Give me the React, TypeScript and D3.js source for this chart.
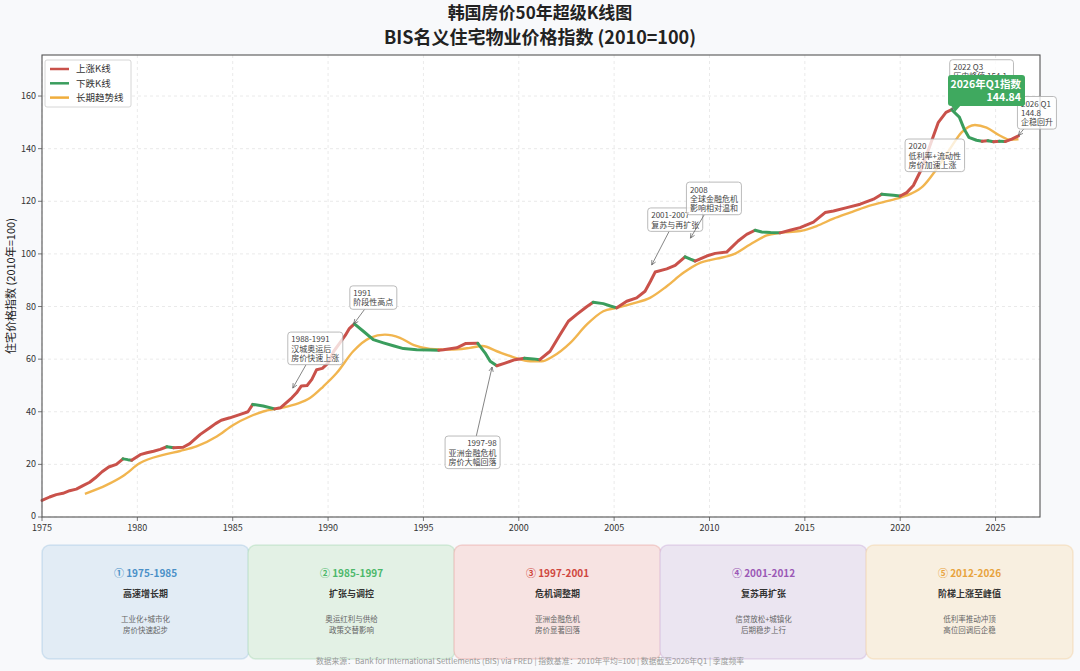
import React from "react";
import * as d3 from "d3";

// --- data ---
const priceYears = [
  1975.0, 1975.4, 1975.75, 1976.1, 1976.45, 1976.8, 1977.15, 1977.5, 1977.8, 1978.15,
  1978.5, 1978.9, 1979.25, 1979.5, 1979.7, 1980.15, 1980.5, 1980.85, 1981.2, 1981.55,
  1981.9, 1982.4, 1982.75, 1983.0, 1983.3, 1983.8, 1984.1, 1984.4, 1984.85, 1985.4,
  1985.8, 1986.05, 1986.6, 1987.2, 1987.5, 1987.8, 1988.1, 1988.35, 1988.6, 1988.9,
  1989.15, 1989.4, 1989.7, 1990.0, 1990.3, 1990.6, 1990.9, 1991.1, 1991.38, 1991.85,
  1992.37, 1992.9, 1993.42, 1993.95, 1994.65, 1995.35, 1995.8, 1996.05, 1996.75, 1997.2,
  1997.85, 1998.23, 1998.5, 1998.85, 1999.28, 1999.8, 2000.3, 2000.76, 2001.1, 2001.64,
  2002.16, 2002.6, 2003.04, 2003.56, 2003.9, 2004.43, 2004.8, 2005.14, 2005.66, 2006.18,
  2006.62, 2006.9, 2007.15, 2007.76, 2008.2, 2008.72, 2009.0, 2009.24, 2009.85, 2010.3,
  2010.9, 2011.5, 2011.95, 2012.39, 2012.74, 2013.2, 2013.7, 2014.22, 2014.75, 2015.45,
  2016.06, 2016.5, 2017.2, 2017.9, 2018.6, 2019.03, 2019.64, 2020.0, 2020.34, 2020.69,
  2021.1, 2021.6, 2022.0, 2022.4, 2022.7, 2023.1, 2023.35, 2023.6, 2024.0, 2024.3,
  2024.6, 2024.9, 2025.2, 2025.5, 2025.85, 2026.2,
];
const priceValues = [
  6.3, 7.6, 8.5, 9.0, 10.0, 10.6, 11.9, 13.2, 14.9, 17.2,
  19.0, 20.0, 22.1, 21.8, 21.6, 23.7, 24.4, 25.0, 25.7, 26.7,
  26.3, 26.5, 27.9, 29.5, 31.4, 33.9, 35.5, 36.8, 37.7, 39.0,
  40.0, 42.8, 42.2, 41.1, 41.5, 43.4, 45.3, 47.2, 49.8, 50.0,
  52.3, 56.0, 56.5, 58.5, 63.0, 66.0, 69.0, 71.5, 73.4, 70.6,
  67.4, 66.2, 65.1, 64.0, 63.6, 63.5, 63.4, 63.6, 64.3, 65.9,
  66.0, 62.4, 59.2, 57.5, 58.5, 59.8, 60.3, 60.1, 59.8, 63.0,
  69.3, 74.4, 77.0, 79.9, 81.6, 81.1, 80.2, 79.5, 82.0, 83.3,
  85.8, 89.5, 93.1, 94.3, 95.6, 98.9, 98.0, 97.3, 99.2, 100.2,
  100.7, 104.9, 107.4, 109.0, 108.3, 108.1, 108.0, 109.0, 110.0, 112.1,
  115.7, 116.3, 117.6, 118.9, 120.8, 122.7, 122.3, 122.0, 123.3, 126.0,
  132.0, 142.0, 150.0, 153.8, 154.8, 152.0, 147.5, 144.3, 143.2, 142.8,
  143.0, 142.6, 142.8, 142.7, 143.6, 144.84,
];

const trendYears = [
  1977.25, 1978.4, 1979.27, 1980.14, 1981.36, 1982.24, 1983.1, 1984.16, 1985.03, 1985.9,
  1986.6, 1987.48, 1988.36, 1989.05, 1989.75, 1990.45, 1991.32, 1992.2, 1992.98, 1993.77,
  1994.5, 1995.35, 1996.4, 1997.44, 1998.1, 1998.85, 1999.7, 2000.6, 2001.2, 2001.8,
  2002.7, 2003.56, 2004.43, 2005.14, 2006.0, 2006.88, 2007.76, 2008.63, 2009.5, 2010.38,
  2011.25, 2012.13, 2013.0, 2013.7, 2014.75, 2015.62, 2016.5, 2017.37, 2018.25, 2019.12,
  2020.0, 2020.6, 2021.2, 2021.9, 2022.6, 2023.22, 2023.92, 2024.53, 2025.24, 2025.76,
  2026.2,
];
const trendValues = [
  8.8, 12.2, 15.7, 20.5, 23.6, 25.1, 26.8, 30.6, 35.0, 38.2,
  40.1, 41.4, 43.0, 45.2, 49.6, 54.7, 63.0, 68.1, 69.3, 68.1,
  65.3, 63.9, 63.6, 64.3, 65.0, 63.0, 60.8, 59.2, 59.2, 61.1,
  66.2, 73.1, 78.2, 79.5, 81.2, 83.3, 87.7, 92.8, 96.6, 98.2,
  99.8, 103.6, 107.0, 108.0, 108.7, 110.6, 113.4, 115.7, 118.0, 119.7,
  121.4, 123.0, 125.8, 132.2, 139.8, 146.2, 149.0, 148.0, 144.9, 143.4,
  143.6,
];

const xTicks = [1975, 1980, 1985, 1990, 1995, 2000, 2005, 2010, 2015, 2020, 2025];
const yTicks = [0, 20, 40, 60, 80, 100, 120, 140, 160];

const legendLabels = ["上涨K线", "下跌K线", "长期趋势线"];

const noteTexts = [
  ["1988-1991", "汉城奥运后", "房价快速上涨"],
  ["1991", "阶段性高点"],
  ["1997-98", "亚洲金融危机", "房价大幅回落"],
  ["2001-2007", "复苏与再扩张"],
  ["2008", "全球金融危机", "影响相对温和"],
  ["2020", "低利率+流动性", "房价加速上涨"],
  ["2022 Q3", "历史峰值 154.1"],
  ["2026 Q1", "144.8", "企稳回升"],
];
const noteTargets = [
  [1988.15, 49], [1991.35, 73.4], [1998.6, 57], [2006.97, 95.8],
  [2009.0, 106], [2021.2, 131.5], [2022.7, 154.8], [2026.2, 145],
];

const calloutLines = ["2026年Q1指数", "144.84"];

const phaseTitles = ["① 1975-1985", "② 1985-1997", "③ 1997-2001", "④ 2001-2012", "⑤ 2012-2026"];
const phaseNames = ["高速增长期", "扩张与调控", "危机调整期", "复苏再扩张", "阶梯上涨至峰值"];
const phaseDescs = [
  ["工业化+城市化", "房价快速起步"],
  ["奥运红利与供给", "政策交替影响"],
  ["亚洲金融危机", "房价显著回落"],
  ["信贷放松+城镇化", "后期稳步上行"],
  ["低利率推动冲顶", "高位回调后企稳"],
];

const footer =
  "数据来源：Bank for International Settlements (BIS) via FRED  |  指数基准：2010年平均=100  |  数据截至2026年Q1  |  季度频率";

// --- layout / style ---
const W = 1080;
const H = 671;
const M = { left: 42, right: 1040, top: 55, bottom: 517 };
const FONT = "'Noto Sans CJK SC', 'Noto Sans', sans-serif";
const UP = "#c9514a";
const DOWN = "#3a9d5d";
const TREND = "#f0ad3c";

// box offsets (from target pixel) and text alignment for each note
const noteLayout = [
  { dx: -5, dy: -56, align: "start" },
  { dx: -4, dy: -38, align: "start" },
  { dx: -47, dy: 69, align: "end" },
  { dx: -4, dy: -57, align: "start" },
  { dx: -4, dy: -56, align: "start" },
  { dx: -18, dy: -32, align: "start" },
  { dx: -2, dy: -50, align: "start" },
  { dx: -1, dy: -39, align: "start" },
];
const phaseFill = ["#e2ecf5", "#e3f1e5", "#f7e3e2", "#ebe5f1", "#f8efe0"];
const phaseColor = ["#4a90c8", "#4cb86a", "#d0473f", "#9b59b6", "#e8a33d"];

if (typeof document !== "undefined") document.body.style.margin = "0";

function textWidth(s: string, size: number) {
  let w = 0;
  for (const ch of s) {
    if (/[\u2E80-\uFFFF]/.test(ch)) w += size;
    else if (ch === " ") w += size * 0.3;
    else w += size * 0.56;
  }
  return w;
}

function edgePoint(b: { x: number; y: number; w: number; h: number }, tx: number, ty: number) {
  const cx = b.x + b.w / 2;
  const cy = b.y + b.h / 2;
  const dx = tx - cx;
  const dy = ty - cy;
  const sx = dx !== 0 ? b.w / 2 / Math.abs(dx) : Infinity;
  const sy = dy !== 0 ? b.h / 2 / Math.abs(dy) : Infinity;
  const s = Math.min(sx, sy);
  return [cx + dx * s, cy + dy * s];
}

export default function App() {
  const x = d3.scaleLinear().domain([1975, 2027.33]).range([M.left, M.right]);
  const y = d3.scaleLinear().domain([0, 175.6]).range([M.bottom, M.top]);

  const pts: [number, number][] = priceYears.map((yr, i) => [yr, priceValues[i]]);
  // group into up / down runs
  const runs: { up: boolean; pts: [number, number][] }[] = [];
  for (let i = 0; i < pts.length - 1; i++) {
    const up = pts[i + 1][1] >= pts[i][1];
    const last = runs[runs.length - 1];
    if (last && last.up === up) last.pts.push(pts[i + 1]);
    else runs.push({ up, pts: [pts[i], pts[i + 1]] });
  }
  const line = d3.line<[number, number]>().x((d) => x(d[0])).y((d) => y(d[1]));
  const trendLine = d3
    .line<[number, number]>()
    .x((d) => x(d[0]))
    .y((d) => y(d[1]))
    .curve(d3.curveMonotoneX);
  const trendPts: [number, number][] = trendYears.map((yr, i) => [yr, trendValues[i]]);

  const noteSize = 8;
  const lh = 9.2;
  const notes = noteTexts.map((lines, i) => {
    const tx = x(noteTargets[i][0]);
    const ty = y(noteTargets[i][1]);
    const L = noteLayout[i];
    const w = Math.max(...lines.map((s) => textWidth(s, noteSize))) + 7;
    const h = lines.length * lh + 5;
    const b = { x: tx + L.dx, y: ty + L.dy, w, h };
    const inside = tx > b.x && tx < b.x + w && ty > b.y && ty < b.y + h;
    let arrow = null as null | number[];
    if (!inside) {
      const [sx, sy] = edgePoint(b, tx, ty);
      arrow = [sx, sy, tx, ty];
    }
    return { lines, b, arrow, align: L.align };
  });

  const arrowHead = (a: number[]) => {
    const ang = Math.atan2(a[3] - a[1], a[2] - a[0]);
    const s = 5;
    const p1 = [a[2] - s * Math.cos(ang - 0.45), a[3] - s * Math.sin(ang - 0.45)];
    const p2 = [a[2] - s * Math.cos(ang + 0.45), a[3] - s * Math.sin(ang + 0.45)];
    return `M${p1[0]},${p1[1]}L${a[2]},${a[3]}L${p2[0]},${p2[1]}`;
  };

  const renderNote = (n: (typeof notes)[number], key: number) => (
    <g key={key}>
      {n.arrow && (
        <g stroke="#666" strokeWidth={0.8} fill="none">
          <line x1={n.arrow[0]} y1={n.arrow[1]} x2={n.arrow[2]} y2={n.arrow[3]} />
          <path d={arrowHead(n.arrow)} />
        </g>
      )}
      <rect
        x={n.b.x}
        y={n.b.y}
        width={n.b.w}
        height={n.b.h}
        rx={3}
        fill="#fff"
        fillOpacity={0.78}
        stroke="#aaa"
        strokeWidth={0.8}
      />
      {n.lines.map((s, j) => (
        <text
          key={j}
          x={n.align === "end" ? n.b.x + n.b.w - 3.5 : n.b.x + 3.5}
          y={n.b.y + 3 + (j + 1) * lh - 1.8}
          fontSize={noteSize}
          fill="#444"
          textAnchor={n.align}
        >
          {s}
        </text>
      ))}
    </g>
  );

  const cardW = 207;
  const cardStep = 206;

  return (
    <svg width={W} height={H} style={{ display: "block", fontFamily: FONT }} xmlns="http://www.w3.org/2000/svg">
      <rect x={0} y={0} width={W} height={H} fill="#f8f9fb" />

      {/* titles */}
      <text x={540} y={19} textAnchor="middle" fontSize={17} fontWeight="bold" fill="#222">
        韩国房价50年超级K线图
      </text>
      <text x={540} y={44} textAnchor="middle" fontSize={18} fontWeight="bold" fill="#222">
        BIS名义住宅物业价格指数 (2010=100)
      </text>

      {/* plot background */}
      <rect x={M.left} y={M.top} width={M.right - M.left} height={M.bottom - M.top} fill="#fff" />

      {/* grid */}
      <g stroke="#dcdcdc" strokeWidth={0.6} strokeDasharray="3,3">
        {yTicks.map((t) => (
          <line key={"gy" + t} x1={M.left} x2={M.right} y1={y(t)} y2={y(t)} />
        ))}
        {xTicks.map((t) => (
          <line key={"gx" + t} x1={x(t)} x2={x(t)} y1={M.top} y2={M.bottom} />
        ))}
      </g>

      {/* trend */}
      <path d={trendLine(trendPts) ?? ""} fill="none" stroke={TREND} strokeWidth={2.4} strokeOpacity={0.9} />

      {/* price runs */}
      {runs.map((r, i) => (
        <path
          key={i}
          d={line(r.pts) ?? ""}
          fill="none"
          stroke={r.up ? UP : DOWN}
          strokeWidth={3}
          strokeLinejoin="round"
          strokeLinecap="round"
        />
      ))}

      {/* frame */}
      <rect
        x={M.left}
        y={M.top}
        width={M.right - M.left}
        height={M.bottom - M.top}
        fill="none"
        stroke="#555"
        strokeWidth={1.1}
      />

      {/* axes ticks */}
      {yTicks.map((t) => (
        <g key={"ty" + t}>
          <line x1={M.left - 4} x2={M.left} y1={y(t)} y2={y(t)} stroke="#555" strokeWidth={0.8} />
          <text x={M.left - 6} y={y(t) + (t === 0 ? 2 : 3)} textAnchor="end" fontSize={9} fill="#333">
            {t}
          </text>
        </g>
      ))}
      {xTicks.map((t) => (
        <g key={"tx" + t}>
          <line x1={x(t)} x2={x(t)} y1={M.bottom} y2={M.bottom + 4} stroke="#555" strokeWidth={0.8} />
          <text x={x(t)} y={M.bottom + 14} textAnchor="middle" fontSize={9} fill="#333">
            {t}
          </text>
        </g>
      ))}
      <text
        transform={`translate(15,${(M.top + M.bottom) / 2}) rotate(-90)`}
        textAnchor="middle"
        fontSize={11}
        fill="#222"
      >
        住宅价格指数 (2010年=100)
      </text>

      {/* legend */}
      <rect x={45} y={60} width={86} height={47} rx={2} fill="#fff" fillOpacity={0.9} stroke="#ccc" strokeWidth={0.8} />
      {legendLabels.map((s, i) => {
        const ly = 69 + i * 14.3;
        return (
          <g key={s}>
            <line x1={50} x2={69} y1={ly} y2={ly} stroke={[UP, DOWN, TREND][i]} strokeWidth={2.5} />
            <text x={76} y={ly + 3.3} fontSize={9.5} fill="#333">
              {s}
            </text>
          </g>
        );
      })}

      {/* annotations */}
      {notes.map((n, i) => renderNote(n, i))}

      {/* latest value callout */}
      <g>
        <path d="M951,105 L961,105 L955,112 Z" fill="#3fa95f" />
        <rect x={948} y={75} width={77} height={31} rx={3} fill="#3fa95f" />
        <text x={1021} y={88} textAnchor="end" fontSize={10.5} fontWeight="bold" fill="#fff">
          {calloutLines[0]}
        </text>
        <text x={1021} y={101} textAnchor="end" fontSize={10.5} fontWeight="bold" fill="#fff">
          {calloutLines[1]}
        </text>
      </g>

      {/* phase cards */}
      {phaseTitles.map((t, i) => {
        const cx0 = 42 + i * cardStep;
        const cx = cx0 + cardW / 2;
        return (
          <g key={t}>
            <rect
              x={cx0}
              y={545}
              width={cardW}
              height={114}
              rx={8}
              fill={phaseFill[i]}
              stroke={phaseColor[i]}
              strokeOpacity={0.18}
              strokeWidth={1.5}
            />
            <text x={cx} y={577} textAnchor="middle" fontSize={10} fontWeight="bold" fill={phaseColor[i]}>
              {t}
            </text>
            <text x={cx} y={597} textAnchor="middle" fontSize={9} fontWeight="bold" fill="#333">
              {phaseNames[i]}
            </text>
            {phaseDescs[i].map((d, j) => (
              <text key={j} x={cx} y={622 + j * 10.5} textAnchor="middle" fontSize={7.5} fill="#666">
                {d}
              </text>
            ))}
          </g>
        );
      })}

      <text x={530} y={664} textAnchor="middle" fontSize={7.8} fill="#999">
        {footer}
      </text>
    </svg>
  );
}
